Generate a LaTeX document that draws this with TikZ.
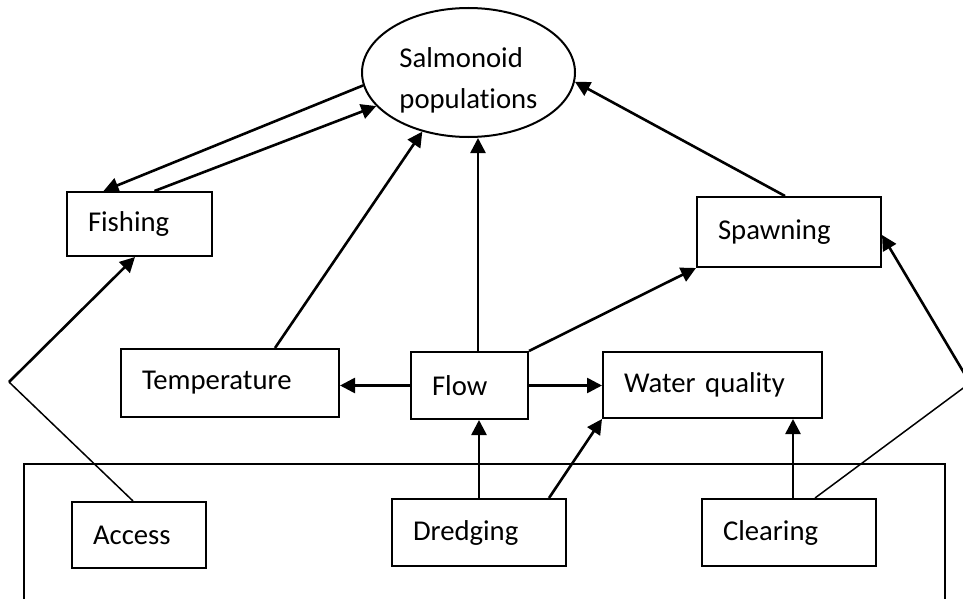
\documentclass[tikz,border=0pt]{standalone}
\usepackage{fontspec}
\setmainfont{Carlito}[Ligatures=NoCommon]
\usetikzlibrary{arrows.meta,shapes.geometric}

\begin{document}
\begin{tikzpicture}[x=1pt, y=-1pt,
  font=\fontsize{28.7}{41.5}\selectfont,
  box/.style={draw, line width=2pt, inner xsep=21pt, inner ysep=0pt, align=left,
    minimum height=67pt, text width=#1},
  arr/.style={line width=2.6pt, -{Triangle[length=15pt,width=15pt]}},
  thinline/.style={line width=1.5pt}]

\clip (0,0) rectangle (963,599);

\node (sp) at (468.5,72.5) [draw, ellipse, line width=2pt, inner sep=0pt,
  minimum width=213pt, minimum height=129pt, align=left, text height=77pt]
  {Salmonoid\\populations};

\node (fishing) at (139.5,224) [box=103pt, minimum height=64pt]{Fishing};
\node (spawning) at (789,232) [box=142pt, minimum height=70pt]{Spawning};
\node (temperature) at (230,383) [box=176pt, minimum height=68pt]{Temperature};
\node (flow) at (469.5,385.5) [box=75pt]{Flow};
\node (waterq) at (712.5,385) [box=177pt, minimum height=66pt]{Water quality};
\node (access) at (139,535) [box=92pt, minimum height=66pt]{Access};
\node (dredging) at (479,532.5) [box=132pt]{Dredging};
\node (clearing) at (789,532.5) [box=132pt]{Clearing};

\draw[thinline] (24,610) -- (24,464) -- (945,464) -- (945,610);

\coordinate (lbend) at (9,382);
\coordinate (rbend) at (970,383);
\coordinate (cl) at ([xshift=4pt]clearing.north);

\draw[arr] (sp.187) -- ([xshift=-36pt]fishing.north);
\draw[arr] ([xshift=15pt]fishing.north) -- (sp.200);
\draw[arr] ([xshift=45pt]temperature.north) -- (sp.232);
\draw[arr] ([xshift=8.5pt]flow.north) -- ([xshift=9.5pt]sp.south);
\draw[arr] (flow.north east) -- (spawning.south west);
\draw[arr] ([xshift=-4pt]spawning.north) -- (sp.355);
\draw[arr] (flow.west) -- (flow.west -| temperature.east);
\draw[arr] (flow.east) -- (flow.east -| waterq.west);
\draw[arr] (dredging.north) -- (dredging.north |- flow.south);
\draw[arr] ([xshift=-18pt]dredging.north east) -- (waterq.south west);
\draw[arr] (cl) -- (cl |- waterq.south);
\draw[thinline] ([xshift=-6pt]access.north) -- (lbend);
\draw[arr] (lbend) -- ([xshift=-4.5pt]fishing.south);
\draw[thinline] ([xshift=26pt]clearing.north) -- (rbend);
\draw[arr] (rbend) -- ([yshift=-3pt]spawning.east);

\end{tikzpicture}
\end{document}
